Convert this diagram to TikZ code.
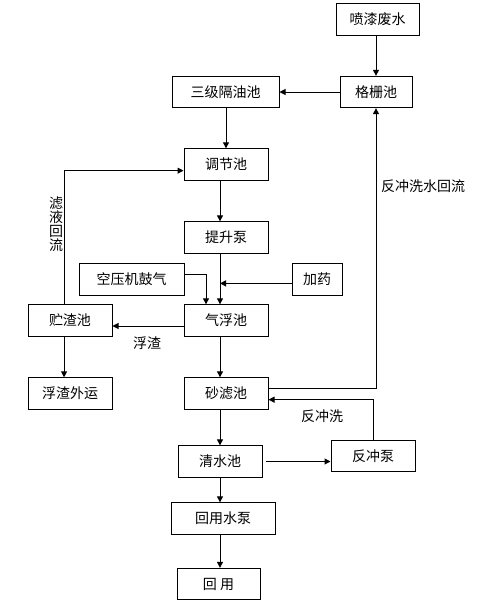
\documentclass[tikz,border=0pt]{standalone}
\usepackage{fontspec}
\newfontfamily\cjk{Noto Sans CJK SC}
\usetikzlibrary{arrows.meta,calc}

\begin{document}
\begin{tikzpicture}[x=0.75pt,y=0.75pt,yscale=-1,xscale=1,
	every node/.style={font=\cjk\fontsize{10.5pt}{10.5pt}\selectfont},
	box/.style={draw,line width=0.75pt,minimum width=63pt,minimum height=23.5pt,inner sep=0.75pt},
	lab/.style={inner sep=0.75pt},
	arr/.style={line width=0.75pt,-{Triangle[length=4.5pt,width=4.5pt]}}]
	\useasboundingbox (0,0) rectangle (486,615);
	\coordinate (spine) at (220,0);
	\coordinate (air) at (206,0);

	% Text Node
	\node [box,minimum width=62.25pt] (ps) at (377.5,19.5) {喷漆废水};
	% Text Node
	\node [box,minimum width=54pt] (gs) at (376,92) {格栅池};
	% Text Node
	\node [box,minimum width=80.25pt] (gy) at (225.5,92) {三级隔油池};
	% Text Node
	\node [box] (tj) at (226,164.5) {调节池};
	% Text Node
	\node [box] (ts) at (226,237.5) {提升泵};
	% Text Node
	\node [box,minimum width=78.75pt] (ky) at (131.5,279.5) {空压机鼓气};
	% Text Node
	\node [box,minimum width=37.5pt] (jy) at (317,279.5) {加药};
	% Text Node
	\node [box] (qf) at (226,320.5) {气浮池};
	% Text Node
	\node [box] (zz) at (70,320.5) {贮渣池};
	% Text Node
	\node [box] (fw) at (70,393.5) {浮渣外运};
	% Text Node
	\node [box] (sl) at (226,393.5) {砂滤池};
	% Text Node
	\node [box] (qs) at (220,461.5) {清水池};
	% Text Node
	\node [box] (fc) at (373,456) {反冲泵};
	% Text Node
	\node [box,minimum width=78pt] (hb) at (223,518.5) {回用水泵};
	% Text Node
	\node [box,minimum width=62.25pt] (hy) at (218.5,584) {回\ 用};
	% Text Node
	\node [lab] (fz) at (147,343) {浮渣};
	% Text Node
	\node [lab,align=center] (ly) at (56,224) {滤\\液\\回\\流};
	% Text Node
	\node [lab] (fhl) at (423,186) {反冲洗水回流};
	% Text Node
	\node [lab] (fcx) at (322,416) {反冲洗};

	% connector ends on the box edges
	\coordinate (kyo) at ($(ky.north east)!0.33!(ky.south east)$);
	\coordinate (jyo) at ($(jy.north west)!0.62!(jy.south west)$);
	\coordinate (qfo) at ($(qf.north west)!0.67!(qf.south west)$);
	\coordinate (zzo) at ($(zz.north west)!0.43!(zz.north east)$);
	\coordinate (zzb) at ($(zz.south west)!0.43!(zz.south east)$);
	\coordinate (tji) at ($(tj.north west)!0.69!(tj.south west)$);
	\coordinate (slo) at ($(sl.north east)!0.33!(sl.south east)$);
	\coordinate (sli) at ($(sl.north east)!0.69!(sl.south east)$);

	% Connection
	\draw [arr] (ps.south -| gs.north) -- (gs.north);
	% Connection
	\draw [arr] (gs.west) -- (gy.east);
	% Connection
	\draw [arr] (gy.south -| tj.north) -- (tj.north);
	% Connection
	\draw [arr] (tj.south -| spine) -- (ts.north -| spine);
	% Connection
	\draw [arr] (ts.south -| spine) -- (qf.north -| spine);
	% Connection
	\draw [arr] (kyo) -| (qf.north -| air);
	% Connection
	\draw [arr] (jyo) -- (jyo -| spine);
	% Connection
	\draw [arr] (qfo) -- (qfo -| zz.east);
	% Connection
	\draw [arr] (zzo) |- (tji);
	% Connection
	\draw [arr] (zzb) -- (zzb |- fw.north);
	% Connection
	\draw [arr] (qf.south -| spine) -- (sl.north -| spine);
	% Connection
	\draw [arr] (slo) -| (gs.south);
	% Connection
	\draw [arr] (fc.north) |- (sli);
	% Connection
	\draw [arr] (sl.south -| qs.north) -- (qs.north);
	% Connection
	\draw [arr,shorten <=2.25pt] (qs.east) -- (qs.east -| fc.west);
	% Connection
	\draw [arr] (qs.south) -- (hb.north -| qs.south);
	% Connection
	\draw [arr] (hb.south -| qs.south) -- (hy.north -| qs.south);

\end{tikzpicture}
\end{document}
